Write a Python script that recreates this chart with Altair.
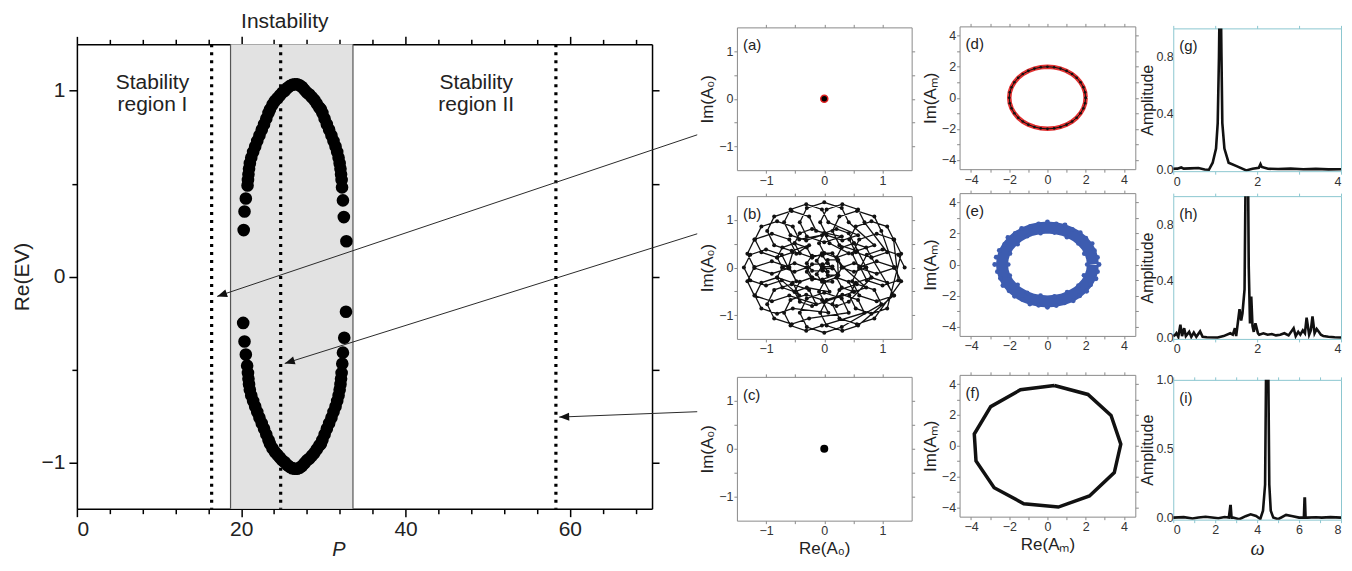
import math
import altair as alt
import pandas as pd

FONT = "Liberation Sans"
SERIF = "Liberation Serif"
INK = "#111111"

# ---------------- main panel: Re(EV) versus P ----------------
P_UP = [20.30, 20.40, 20.56, 20.77, 20.82, 20.88, 20.95, 21.05, 21.22, 21.45,
        21.70, 21.95, 22.22, 22.50, 22.78, 23.05, 23.32, 23.50, 23.80, 24.10,
        24.40, 24.70, 25.00, 25.30, 25.60, 25.90, 26.20, 26.50, 26.80, 27.10,
        27.40, 27.70, 28.00, 28.30, 28.60, 28.90, 29.20, 29.50, 29.70, 29.88,
        30.15, 30.42, 30.70, 30.98, 31.23, 31.48, 31.68, 31.85, 31.98, 32.08,
        32.15, 32.22, 32.27, 32.38, 32.49, 32.80]
EV_UP = [0.25, 0.35, 0.42, 0.49, 0.52, 0.55, 0.58, 0.61, 0.64, 0.67,
         0.70, 0.73, 0.76, 0.79, 0.82, 0.85, 0.88, 0.90, 0.925, 0.945,
         0.96, 0.975, 0.99, 1.00, 1.015, 1.025, 1.032, 1.035, 1.035, 1.03,
         1.02, 1.005, 0.99, 0.98, 0.965, 0.95, 0.93, 0.91, 0.90, 0.88,
         0.85, 0.82, 0.79, 0.76, 0.73, 0.70, 0.67, 0.64, 0.61, 0.58,
         0.55, 0.52, 0.48, 0.41, 0.32, 0.19]
P_LO = [20.24, 20.40, 20.56, 20.72, 20.82, 20.88, 20.95, 21.05, 21.22, 21.45,
        21.70, 21.95, 22.22, 22.50, 22.78, 23.05, 23.32, 23.50, 23.80, 24.10,
        24.40, 24.70, 25.00, 25.30, 25.60, 25.90, 26.20, 26.50, 26.80, 27.10,
        27.40, 27.70, 28.00, 28.30, 28.60, 28.90, 29.20, 29.50, 29.70, 29.88,
        30.15, 30.42, 30.70, 30.98, 31.23, 31.48, 31.68, 31.85, 31.98, 32.08,
        32.15, 32.22, 32.30, 32.38, 32.54, 32.75]
EV_LO = [-0.25, -0.35, -0.42, -0.48, -0.52, -0.55, -0.58, -0.61, -0.64, -0.67,
         -0.70, -0.73, -0.76, -0.79, -0.82, -0.85, -0.88, -0.90, -0.925, -0.945,
         -0.96, -0.975, -0.99, -1.00, -1.015, -1.025, -1.032, -1.035, -1.035, -1.03,
         -1.02, -1.005, -0.99, -0.98, -0.965, -0.95, -0.93, -0.91, -0.90, -0.88,
         -0.85, -0.82, -0.79, -0.76, -0.73, -0.70, -0.67, -0.64, -0.61, -0.58,
         -0.55, -0.52, -0.47, -0.41, -0.33, -0.19]
BAND_EDGES = [18.7, 33.6]
DOTTED_P = [16.4, 24.8, 58.3]
REGION_TEXT = ["Stability", "region I", "Stability", "region II"]
REGION_X = [9.2, 9.2, 48.6, 48.6]
REGION_Y = [1.043, 0.925, 1.043, 0.925]
INSTAB_X, INSTAB_Y = [25.3], [1.25]
ARROW_X0 = [75.5, 75.5, 75.5]
ARROW_Y0 = [0.763, 0.230, -0.728]
ARROW_X1 = [17.07, 25.3, 58.7]
ARROW_Y1 = [-0.107, -0.468, -0.757]

# ---------------- (b) trajectory of A0 (loop after loop) ----------------
XB_1 = [1.38, 1.27, 1.00, 0.73, 0.62, 0.73, 1.00, 1.27,
        1.19, 1.08, 0.81, 0.54, 0.43, 0.54, 0.81, 1.08,
        0.69, 0.58, 0.31, 0.04, -0.07, 0.04, 0.31, 0.58,
        0.07, -0.04, -0.31, -0.58, -0.69, -0.58, -0.31, -0.04,
        -0.43, -0.54, -0.81, -1.08, -1.19, -1.08, -0.81, -0.54,
        -0.62, -0.73, -1.00, -1.27, -1.38, -1.27, -1.00, -0.73,
        -0.43, -0.54, -0.81, -1.08, -1.19, -1.08, -0.81, -0.54,
        0.07, -0.04, -0.31, -0.58, -0.69, -0.58, -0.31, -0.04,
        0.69, 0.58, 0.31, 0.04, -0.07, 0.04, 0.31, 0.58,
        1.19, 1.08, 0.81, 0.54, 0.43, 0.54, 0.81, 1.08]
YB_1 = [0.00, 0.27, 0.38, 0.27, 0.00, -0.27, -0.38, -0.27,
        0.59, 0.86, 0.97, 0.86, 0.59, 0.32, 0.21, 0.32,
        0.95, 1.22, 1.33, 1.22, 0.95, 0.68, 0.57, 0.68,
        0.95, 1.22, 1.33, 1.22, 0.95, 0.68, 0.57, 0.68,
        0.59, 0.86, 0.97, 0.86, 0.59, 0.32, 0.21, 0.32,
        0.00, 0.27, 0.38, 0.27, 0.00, -0.27, -0.38, -0.27,
        -0.59, -0.32, -0.21, -0.32, -0.59, -0.86, -0.97, -0.86,
        -0.95, -0.68, -0.57, -0.68, -0.95, -1.22, -1.33, -1.22,
        -0.95, -0.68, -0.57, -0.68, -0.95, -1.22, -1.33, -1.22,
        -0.59, -0.32, -0.21, -0.32, -0.59, -0.86, -0.97, -0.86]
XB_2 = [1.32, 1.20, 0.90, 0.60, 0.48, 0.60, 0.90, 1.20,
        0.98, 0.86, 0.56, 0.26, 0.14, 0.26, 0.56, 0.86,
        0.42, 0.30, 0.00, -0.30, -0.42, -0.30, 0.00, 0.30,
        -0.14, -0.26, -0.56, -0.86, -0.98, -0.86, -0.56, -0.26,
        -0.48, -0.60, -0.90, -1.20, -1.32, -1.20, -0.90, -0.60,
        -0.48, -0.60, -0.90, -1.20, -1.32, -1.20, -0.90, -0.60,
        -0.14, -0.26, -0.56, -0.86, -0.98, -0.86, -0.56, -0.26,
        0.42, 0.30, 0.00, -0.30, -0.42, -0.30, 0.00, 0.30,
        0.98, 0.86, 0.56, 0.26, 0.14, 0.26, 0.56, 0.86,
        1.32, 1.20, 0.90, 0.60, 0.48, 0.60, 0.90, 1.20]
YB_2 = [0.29, 0.59, 0.71, 0.59, 0.29, -0.01, -0.13, -0.01,
        0.77, 1.07, 1.19, 1.07, 0.77, 0.47, 0.35, 0.47,
        0.95, 1.25, 1.37, 1.25, 0.95, 0.65, 0.53, 0.65,
        0.77, 1.07, 1.19, 1.07, 0.77, 0.47, 0.35, 0.47,
        0.29, 0.59, 0.71, 0.59, 0.29, -0.01, -0.13, -0.01,
        -0.29, 0.01, 0.13, 0.01, -0.29, -0.59, -0.71, -0.59,
        -0.77, -0.47, -0.35, -0.47, -0.77, -1.07, -1.19, -1.07,
        -0.95, -0.65, -0.53, -0.65, -0.95, -1.25, -1.37, -1.25,
        -0.77, -0.47, -0.35, -0.47, -0.77, -1.07, -1.19, -1.07,
        -0.29, 0.01, 0.13, 0.01, -0.29, -0.59, -0.71, -0.59]
XB_3 = [0.81, 0.72, 0.51, 0.30, 0.21, 0.30, 0.51, 0.72,
        0.51, 0.42, 0.21, 0.00, -0.09, 0.00, 0.21, 0.42,
        0.09, 0.00, -0.21, -0.42, -0.51, -0.42, -0.21, 0.00,
        -0.21, -0.30, -0.51, -0.72, -0.81, -0.72, -0.51, -0.30,
        -0.21, -0.30, -0.51, -0.72, -0.81, -0.72, -0.51, -0.30,
        0.09, 0.00, -0.21, -0.42, -0.51, -0.42, -0.21, 0.00,
        0.51, 0.42, 0.21, 0.00, -0.09, 0.00, 0.21, 0.42,
        0.81, 0.72, 0.51, 0.30, 0.21, 0.30, 0.51, 0.72]
YB_3 = [0.21, 0.42, 0.51, 0.42, 0.21, 0.00, -0.09, 0.00,
        0.51, 0.72, 0.81, 0.72, 0.51, 0.30, 0.21, 0.30,
        0.51, 0.72, 0.81, 0.72, 0.51, 0.30, 0.21, 0.30,
        0.21, 0.42, 0.51, 0.42, 0.21, 0.00, -0.09, 0.00,
        -0.21, 0.00, 0.09, 0.00, -0.21, -0.42, -0.51, -0.42,
        -0.51, -0.30, -0.21, -0.30, -0.51, -0.72, -0.81, -0.72,
        -0.51, -0.30, -0.21, -0.30, -0.51, -0.72, -0.81, -0.72,
        -0.21, 0.00, 0.09, 0.00, -0.21, -0.42, -0.51, -0.42]
XB_4 = [0.33, 0.24, 0.06, -0.03, 0.06, 0.24,
        0.23, 0.14, -0.04, -0.13, -0.04, 0.14,
        0.06, -0.03, -0.21, -0.30, -0.21, -0.03,
        0.06, -0.03, -0.21, -0.30, -0.21, -0.03,
        0.23, 0.14, -0.04, -0.13, -0.04, 0.14]
YB_4 = [0.00, 0.16, 0.16, 0.00, -0.16, -0.16,
        0.14, 0.30, 0.30, 0.14, -0.02, -0.02,
        0.09, 0.25, 0.25, 0.09, -0.07, -0.07,
        -0.09, 0.07, 0.07, -0.09, -0.25, -0.25,
        -0.14, 0.02, 0.02, -0.14, -0.30, -0.30]

# ---------------- (d) (e) (f) Am ----------------
X_D = [2.0, 1.97, 1.88, 1.73, 1.53, 1.29, 1.0, 0.68, 0.35, 0.0, -0.35, -0.68, -1.0,
       -1.29, -1.53, -1.73, -1.88, -1.97, -2.0, -1.97, -1.88, -1.73, -1.53, -1.29,
       -1.0, -0.68, -0.35, 0.0, 0.35, 0.68, 1.0, 1.29, 1.53, 1.73, 1.88, 1.97, 2.0]
Y_D = [0.0, 0.35, 0.68, 1.0, 1.29, 1.53, 1.73, 1.88, 1.97, 2.0, 1.97, 1.88, 1.73,
       1.53, 1.29, 1.0, 0.68, 0.35, 0.0, -0.35, -0.68, -1.0, -1.29, -1.53,
       -1.73, -1.88, -1.97, -2.0, -1.97, -1.88, -1.73, -1.53, -1.29, -1.0, -0.68, -0.35, 0.0]
X_E = [2.38, 2.34, 2.24, 2.06, 1.82, 1.53, 1.19, 0.81, 0.41, 0.0, -0.41, -0.81, -1.19,
       -1.53, -1.82, -2.06, -2.24, -2.34, -2.38, -2.34, -2.24, -2.06, -1.82, -1.53,
       -1.19, -0.81, -0.41, 0.0, 0.41, 0.81, 1.19, 1.53, 1.82, 2.06, 2.24, 2.34, 2.38]
Y_E = [0.0, 0.41, 0.81, 1.19, 1.53, 1.82, 2.06, 2.24, 2.34, 2.38, 2.34, 2.24, 2.06,
       1.82, 1.53, 1.19, 0.81, 0.41, 0.0, -0.41, -0.81, -1.19, -1.53, -1.82,
       -2.06, -2.24, -2.34, -2.38, -2.34, -2.24, -2.06, -1.82, -1.53, -1.19, -0.81, -0.41, 0.0]
X_EO = [2.70, 2.62, 2.46, 2.34, 2.01, 1.72, 1.30, 0.92, 0.46, 0.0, -0.46, -0.89,
        -1.35, -1.69, -2.07, -2.24, -2.52, -2.68, -2.76, -2.62, -2.46, -2.33, -2.01, -1.72,
        -1.30, -0.92, -0.46, 0.0, 0.46, 0.89, 1.35, 1.69, 2.05, 2.26, 2.54, 2.62]
Y_EO = [0.0, 0.46, 0.89, 1.35, 1.69, 2.05, 2.26, 2.55, 2.62, 2.74, 2.62, 2.46,
        2.33, 2.01, 1.74, 1.29, 0.91, 0.47, 0.0, -0.46, -0.89, -1.35, -1.69, -2.05,
        -2.26, -2.54, -2.62, -2.76, -2.64, -2.46, -2.33, -2.01, -1.72, -1.31, -0.92, -0.46]
X_EI = [2.08, 1.93, 1.62, 1.02, 0.37, -0.36, -1.06, -1.56, -1.96, -2.05, -1.97, -1.56,
        -1.06, -0.36, 0.37, 1.03, 1.62, 1.91]
Y_EI = [0.0, 0.70, 1.36, 1.76, 2.06, 2.02, 1.83, 1.31, 0.71, 0.0, -0.71, -1.31,
        -1.83, -2.00, -2.05, -1.78, -1.36, -0.69]
X_F = [0.36, 2.12, 3.33, 3.84, 3.50, 2.20, 0.57, -1.24, -2.79, -3.74, -3.83, -2.97, -1.41, 0.36]
Y_F = [3.91, 3.33, 1.96, 0.11, -1.74, -3.26, -3.98, -3.76, -2.72, -0.98, 0.76, 2.54, 3.63, 3.91]

# ---------------- (g) (h) (i) spectra ----------------
W_G = [0, 0.10, 0.19, 0.25, 0.40, 0.60, 0.75, 0.85, 0.94, 1.02, 1.06, 1.09, 1.11, 1.13,
       1.15, 1.17, 1.22, 1.32, 1.51, 1.74, 1.89, 2.04, 2.08, 2.11, 2.26, 2.50, 2.80,
       3.10, 3.40, 3.70, 4.0]
A_G = [0.007, 0.008, 0.016, 0.008, 0.010, 0.012, 0.002, 0.000, 0.05, 0.15, 0.33, 0.8,
       1.3, 1.3, 0.8, 0.33, 0.15, 0.05, 0.026, -0.005, 0.007, 0.014, 0.04, 0.02, 0.007,
       0.005, 0.008, 0.004, 0.006, 0.003, 0.004]
W_H = [0, 0.05, 0.075, 0.12, 0.17, 0.21, 0.26, 0.30, 0.38, 0.43, 0.49, 0.55, 0.64, 0.70,
       0.80, 1.06, 1.20, 1.36, 1.42, 1.47, 1.50, 1.58, 1.62, 1.65, 1.70, 1.73, 1.75, 1.78,
       1.80, 1.83, 1.86, 1.89, 1.92, 1.96, 2.02, 2.05, 2.15, 2.25, 2.35, 2.45, 2.55, 2.65,
       2.75, 2.87, 2.92, 2.98, 3.03, 3.09, 3.14, 3.18, 3.24, 3.28, 3.32, 3.37, 3.42, 3.47,
       3.52, 3.58, 3.70, 3.85, 4.0]
A_H = [0.01, 0.02, 0.03, 0.005, 0.09, 0.01, 0.066, 0.01, 0.04, 0.005, 0.035, 0.005,
       0.043, 0.005, 0.002, 0.0, 0.01, 0.03, 0.02, 0.066, 0.01, 0.2, 0.12, 0.17, 0.34,
       1.3, 1.3, 1.3, 0.5, 0.1, 0.29, 0.08, 0.04, 0.1, 0.03, 0.02, 0.03, 0.02, 0.025,
       0.015, 0.02, 0.03, 0.015, 0.066, 0.01, 0.04, 0.02, 0.05, 0.03, 0.14, 0.02, 0.05,
       0.15, 0.03, 0.06, 0.04, 0.02, 0.01, 0.005, 0.002, 0.0]
W_I = [0, 0.5, 0.92, 1.2, 1.54, 1.85, 2.15, 2.45, 2.65, 2.72, 2.74, 2.78, 2.85, 3.15,
       3.45, 3.69, 3.95, 4.15, 4.28, 4.38, 4.44, 4.48, 4.52, 4.58, 4.65, 4.77, 5.0, 5.38,
       5.7, 6.0, 6.23, 6.26, 6.28, 6.31, 6.4, 6.8, 7.08, 7.5, 8.0]
A_I = [0.0, 0.003, -0.007, 0.0, 0.006, 0.0, -0.005, 0.004, 0.0, 0.083, 0.083, 0.0, 0.0,
       -0.012, 0.01, 0.024, 0.012, -0.01, 0.05, 0.24, 1.3, 1.3, 1.3, 0.24, 0.05, 0.0,
       -0.012, 0.019, 0.01, 0.0, 0.0, 0.138, 0.138, 0.0, 0.0, 0.002, 0.0, 0.003, 0.0]

GRAY = "#8a8a8a"
TEAL = "#8cc7d0"
ARROW = "M0,0L2,-0.8L2,0.8Z"


def ax(orient, values, color, fmt="", expr="", labels=True, tick=3, fs=12.5,
       title=None, tfs=17, tfont=FONT, tstyle="normal", pad=1, tpad=2, flush=False):
    kw = dict(orient=orient, values=values, grid=False, domainColor=color,
              domainWidth=1, tickColor=color, tickWidth=1, labels=labels, title=title)
    if tick > 0:
        kw.update(ticks=True, tickSize=tick)
    else:
        kw.update(ticks=False)
    if labels:
        kw.update(format=fmt, labelExpr=expr, labelFont=FONT, labelFontSize=fs,
                  labelColor="#333333", labelPadding=pad, labelFlush=flush,
                  labelOverlap=False)
    if title:
        kw.update(titleFont=tfont, titleFontSize=tfs, titleFontStyle=tstyle,
                  titleFontWeight="normal", titleColor="#222222", titlePadding=tpad)
    return alt.Axis(**kw)


def panel(marks, xdom, ydom, axes, w, h, tag):
    xs = alt.Scale(domain=xdom, nice=False, zero=False)
    ys = alt.Scale(domain=ydom, nice=False, zero=False)
    frame = pd.DataFrame({"x": xdom, "y": ydom})
    base = alt.Chart(frame).mark_point(opacity=0)
    a1 = base.encode(x=alt.X("x:Q", scale=xs, axis=axes[0]), y=alt.Y("y:Q", scale=ys, axis=axes[1]))
    a2 = base.encode(x=alt.X("x:Q", scale=xs, axis=axes[2]), y=alt.Y("y:Q", scale=ys, axis=axes[3]))
    layers = [a1, a2] + [m(xs, ys) for m in marks]
    lab = alt.Chart(pd.DataFrame({"t": [tag]})).mark_text(
        font=FONT, fontSize=15, color="#222222", align="left", baseline="middle"
    ).encode(x=alt.value(6), y=alt.value(18), text="t:N")
    return alt.layer(*layers, lab).resolve_axis(x="independent", y="independent").properties(width=w, height=h)


def line_mark(df, color, width, clip=False):
    def f(xs, ys):
        return alt.Chart(df).mark_line(color=color, strokeWidth=width, clip=clip).encode(
            x=alt.X("x:Q", scale=xs, axis=None), y=alt.Y("y:Q", scale=ys, axis=None), order="i:Q")
    return f


def dot_mark(df, color, size, stroke=None, sw=1.0):
    def f(xs, ys):
        kw = dict(color=color, size=size, opacity=1)
        if stroke:
            kw.update(stroke=stroke, strokeWidth=sw)
        return alt.Chart(df).mark_circle(**kw).encode(
            x=alt.X("x:Q", scale=xs, axis=None), y=alt.Y("y:Q", scale=ys, axis=None))
    return f


def seq(xv, yv):
    return pd.DataFrame({"x": xv, "y": yv, "i": list(range(len(xv)))})


def spacer(h):
    return alt.Chart(pd.DataFrame({"v": [0]})).mark_point(size=0, opacity=0).encode(
        x=alt.value(0), y=alt.value(0)).properties(width=1, height=h)


# ---------------- main chart ----------------
W_MAIN, H_MAIN = 576, 465
xsm = alt.Scale(domain=[0, 70], nice=False, zero=False)
ysm = alt.Scale(domain=[-1.25, 1.25], nice=False, zero=False)
XM = dict(scale=xsm, axis=None)
YM = dict(scale=ysm, axis=None)

major20 = {"condition": {"test": "datum.value % 20 === 0", "value": 8}, "value": 5}
major1 = {"condition": {"test": "datum.value % 1 === 0", "value": 8}, "value": 5}
xvals = list(range(0, 69, 4))
yvals = [-1, -0.5, 0, 0.5, 1]

ax_bottom = alt.Axis(orient="bottom", values=xvals, format="d",
                     labelExpr="datum.value % 20 === 0 ? datum.label : ''",
                     tickSize=major20, tickColor="black", tickWidth=1.5,
                     domainColor="black", domainWidth=1.5, grid=False,
                     labelFont=FONT, labelFontSize=21, labelColor="#222222",
                     labelPadding=2, labelOverlap=False,
                     title="P", titleFont=FONT, titleFontSize=20, titleFontStyle="italic",
                     titleFontWeight="normal", titleColor="#222222", titleX=262, titlePadding=0)
ax_left = alt.Axis(orient="left", values=yvals, format=".0f",
                   labelExpr="datum.value % 1 === 0 ? datum.label : ''",
                   tickSize=major1, tickColor="black", tickWidth=1.5,
                   domainColor="black", domainWidth=1.5, grid=False,
                   labelFont=FONT, labelFontSize=21, labelColor="#222222",
                   labelPadding=4, labelOverlap=False,
                   title="Re(EV)", titleFont=FONT, titleFontSize=21,
                   titleFontWeight="normal", titleColor="#222222", titlePadding=9)
ax_top = alt.Axis(orient="top", values=xvals, labels=False, tickSize=major20,
                  tickColor="black", tickWidth=1.5, domainColor="black",
                  domainWidth=1.5, grid=False, title=None)
ax_right = alt.Axis(orient="right", values=yvals, labels=False, tickSize=7,
                    tickColor="black", tickWidth=1.5, domainColor="black",
                    domainWidth=1.5, grid=False, title=None)

pts_df = pd.DataFrame({"P": P_UP + P_LO, "EV": EV_UP + EV_LO})

band = alt.Chart(pd.DataFrame({"a": [BAND_EDGES[0]], "b": [BAND_EDGES[1]]})).mark_rect(
    color="#e2e2e2").encode(x=alt.X("a:Q", **XM), x2="b:Q", y=alt.value(0), y2=alt.value(H_MAIN))
band_edges = alt.Chart(pd.DataFrame({"P": BAND_EDGES})).mark_rule(
    color="#555555", strokeWidth=1.2).encode(x=alt.X("P:Q", **XM))
dotted = alt.Chart(pd.DataFrame({"P": DOTTED_P})).mark_rule(
    color="black", strokeWidth=3.2, strokeDash=[3, 5]).encode(x=alt.X("P:Q", **XM))
points = alt.Chart(pts_df).mark_circle(size=160, color="black", opacity=1).encode(
    x=alt.X("P:Q", scale=xsm, axis=ax_bottom), y=alt.Y("EV:Q", scale=ysm, axis=ax_left))
frame2 = alt.Chart(pd.DataFrame({"P": [0, 70], "EV": [-1.25, 1.25]})).mark_point(opacity=0).encode(
    x=alt.X("P:Q", scale=xsm, axis=ax_top), y=alt.Y("EV:Q", scale=ysm, axis=ax_right))

texts = alt.Chart(pd.DataFrame({"t": REGION_TEXT, "x": REGION_X, "y": REGION_Y})).mark_text(
    font=FONT, fontSize=21, color="#222222", baseline="middle").encode(
    x=alt.X("x:Q", **XM), y=alt.Y("y:Q", **YM), text="t:N")
instab = alt.Chart(pd.DataFrame({"t": ["Instability"], "x": INSTAB_X, "y": INSTAB_Y})).mark_text(
    font=FONT, fontSize=21, color="#222222", baseline="middle", dy=-22).encode(
    x=alt.X("x:Q", **XM), y=alt.Y("y:Q", **YM), text="t:N")

KX, KY = W_MAIN / 70.0, H_MAIN / 2.5
angles = [math.degrees(math.atan2((y1 - y0) * KY, -(x1 - x0) * KX)) % 360
          for x0, y0, x1, y1 in zip(ARROW_X0, ARROW_Y0, ARROW_X1, ARROW_Y1)]
arr_df = pd.DataFrame({"x0": ARROW_X0, "y0": ARROW_Y0, "x1": ARROW_X1, "y1": ARROW_Y1, "ang": angles})
arrows = alt.Chart(arr_df).mark_rule(color="#2a2a2a", strokeWidth=1.0, clip=False).encode(
    x=alt.X("x0:Q", **XM), y=alt.Y("y0:Q", **YM), x2="x1:Q", y2="y1:Q")
heads = alt.Chart(arr_df).mark_point(shape=ARROW, filled=True, size=100, color="#111111",
                                     opacity=1, clip=False).encode(
    x=alt.X("x1:Q", **XM), y=alt.Y("y1:Q", **YM), angle=alt.Angle("ang:Q", scale=None))

main = alt.layer(band, band_edges, dotted, points, frame2, texts, instab, arrows, heads).resolve_axis(
    x="independent", y="independent").properties(width=W_MAIN, height=H_MAIN)

# ---------------- column 1: A0 ----------------
d1 = [-1.5, 1.5]
v1 = [-1, -0.5, 0, 0.5, 1]
e1 = "round(datum.value*2) % 2 === 0 ? datum.label : ''"


def axes1(xtitle=None):
    return [ax("bottom", v1, GRAY, ".0f", e1, title=xtitle, tpad=3),
            ax("left", v1, GRAY, ".0f", e1, title="Im(A\u2080)"),
            ax("top", v1, GRAY, labels=False), ax("right", v1, GRAY, labels=False)]


origin = pd.DataFrame({"x": [0.0], "y": [0.0]})
pa = panel([dot_mark(origin, "black", 50, stroke="#e02020", sw=1.5)], d1, d1, axes1(), 175, 143, "(a)")
b_df = seq(XB_1 + XB_2 + XB_3 + XB_4, YB_1 + YB_2 + YB_3 + YB_4)
pb = panel([line_mark(b_df, INK, 1.3), dot_mark(b_df, INK, 16)], d1, d1, axes1(), 175, 143, "(b)")
pc = panel([dot_mark(origin, "black", 64)], d1, d1, axes1("Re(A\u2080)"), 175, 144, "(c)")

# ---------------- column 2: Am ----------------
d2 = [-4.6, 4.6]
v2 = [-4, -3, -2, -1, 0, 1, 2, 3, 4]
e2 = "datum.value % 2 === 0 ? datum.label : ''"


def axes2(xtitle=None):
    return [ax("bottom", v2, GRAY, "d", e2, title=xtitle, tpad=3),
            ax("left", v2, GRAY, "d", e2, title="Im(A\u2098)"),
            ax("top", v2, GRAY, labels=False), ax("right", v2, GRAY, labels=False)]


d_df = seq(X_D, Y_D)
pd_ = panel([line_mark(d_df, "#e03030", 4.5), line_mark(d_df, INK, 1.0),
             dot_mark(d_df, INK, 7)], d2, d2, axes2(), 176, 143, "(d)")
e_df = seq(X_E, Y_E)
pe = panel([line_mark(e_df, "#3d5cb0", 12), dot_mark(seq(X_EO, Y_EO), "#3d5cb0", 24),
            dot_mark(seq(X_EI, Y_EI), "#3d5cb0", 22)], d2, d2, axes2(), 176, 143, "(e)")
pf = panel([line_mark(seq(X_F, Y_F), INK, 3.5)], d2, d2, axes2("Re(A\u2098)"), 176, 142, "(f)")

# ---------------- column 3: spectra ----------------
v3x = [0, 1, 2, 3, 4]
v3y = [0, 0.2, 0.4, 0.6, 0.8, 1.0]
e3x = "datum.value % 2 === 0 ? datum.label : ''"
e3y = "round(datum.value*10) % 4 === 0 ? datum.label : ''"


def axes3(xv, yv, ey, xtitle=None):
    return [ax("bottom", xv, TEAL, "d", e3x, flush=True, title=xtitle, tfs=20,
               tfont=SERIF, tstyle="italic", tpad=2),
            ax("left", yv, TEAL, ".1f", ey, tick=0, title="Amplitude", tfs=16, pad=0, tpad=0),
            ax("top", xv, TEAL, labels=False), ax("right", yv, TEAL, labels=False, tick=0)]


W3 = 168
pg = panel([line_mark(seq(W_G, A_G), INK, 2.6, clip=True)], [0, 4], [-0.01, 1.0],
           axes3(v3x, v3y, e3y), W3, 143, "(g)")
ph = panel([line_mark(seq(W_H, A_H), INK, 2.6, clip=True)], [0, 4], [-0.01, 1.0],
           axes3(v3x, v3y, e3y), W3, 143, "(h)")
pi = panel([line_mark(seq(W_I, A_I), INK, 2.6, clip=True)], [0, 8], [-0.015, 1.0],
           axes3(list(range(0, 9)), [0, 0.25, 0.5, 0.75, 1.0],
                 "round(datum.value*4) % 2 === 0 ? datum.label : ''", "\u03c9"),
           W3, 140, "(i)")

col1 = alt.vconcat(spacer(1), alt.vconcat(alt.vconcat(pa, pb, spacing=5), pc, spacing=17), spacing=12)
col2 = alt.vconcat(spacer(1), alt.vconcat(alt.vconcat(pd_, pe, spacing=3), pf, spacing=18), spacing=11)
col3 = alt.vconcat(spacer(1), alt.vconcat(alt.vconcat(pg, ph, spacing=2), pi, spacing=18), spacing=11)
main_col = alt.vconcat(spacer(1), main, spacing=0)
rest = alt.hconcat(col1, alt.hconcat(col2, col3, spacing=0), spacing=5)

chart = alt.hconcat(main_col, rest, spacing=0).properties(
    padding={"left": 3, "top": 2, "right": 0, "bottom": 0}
).configure(font=FONT).configure_view(stroke=None)

chart.save("out.html", embed_options={"renderer": "svg", "actions": False})
